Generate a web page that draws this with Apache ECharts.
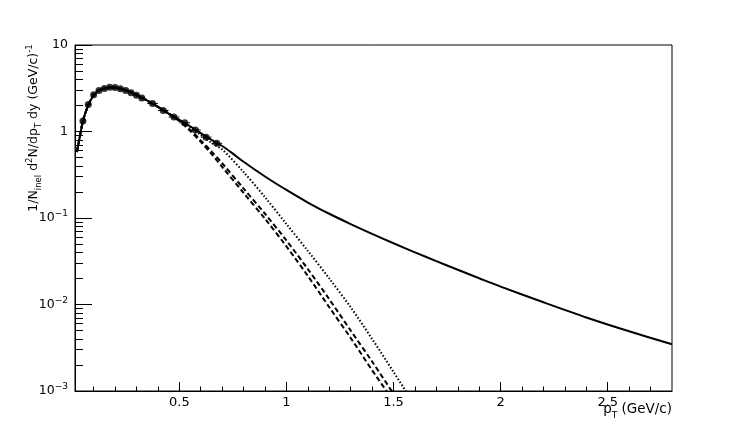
<!DOCTYPE html>
<html><head><meta charset="utf-8">
<script src="https://cdn.jsdelivr.net/npm/echarts@6/dist/echarts.min.js"></script>
<style>html,body{margin:0;padding:0;background:#fff;}#c{width:747px;height:436px;}</style>
</head><body><div id="c"></div>
<script>
// ---- tick labels ----
const xTickValues = [0.5, 1, 1.5, 2, 2.5];
const xMinorTickValues = [0.1,0.2,0.3,0.4,0.6,0.7,0.8,0.9,1.1,1.2,1.3,1.4,1.6,1.7,1.8,1.9,2.1,2.2,2.3,2.4,2.6,2.7];
const yMinorTickValues = [0.002,0.003,0.004,0.005,0.006,0.007,0.008,0.009,
  0.02,0.03,0.04,0.05,0.06,0.07,0.08,0.09,
  0.2,0.3,0.4,0.5,0.6,0.7,0.8,0.9,
  2,3,4,5,6,7,8,9];

// ---- shared low-pT part of all model curves ----
const lowPt  = [0.022,0.03,0.04,0.05,0.06,0.075,0.09,0.1,0.12,0.14,0.16,0.18,0.2,0.22,0.25,0.28,0.3,0.325,0.35,0.375,0.4];
const lowVal = [0.58,0.74,1.0,1.32,1.6,2.02,2.4,2.62,2.92,3.10,3.19,3.22,3.20,3.14,3.00,2.80,2.65,2.47,2.28,2.10,1.93];

// ---- solid curve tail ----
const solidPt  = [0.45,0.5,0.55,0.6,0.65,0.7,0.75,0.8,0.9,1.0,1.1,1.2,1.3,1.4,1.5,1.6,1.7,1.8,1.9,2.0,2.2,2.4,2.6,2.8];
const solidVal = [1.61,1.36,1.15,0.96,0.80,0.68,0.555,0.447,0.302,0.211,0.151,0.112,0.0851,0.0656,0.0511,0.0401,0.0317,0.0252,0.0201,0.0161,0.0106,0.00708,0.0049,0.00347];

// ---- dashed curve A (leftmost) ----
const dashAPt  = [0.45,0.5,0.55,0.6,0.65,0.7,0.8,0.9,1.0,1.1,1.2,1.3,1.4,1.5];
const dashAVal = [1.60,1.32,1.02,0.76,0.55,0.39,0.195,0.098,0.047,0.0214,0.0093,0.0041,0.00174,0.00076];

// ---- dashed curve B ----
const dashBPt  = [0.45,0.5,0.55,0.6,0.65,0.7,0.8,0.9,1.0,1.1,1.2,1.3,1.4,1.5,1.6];
const dashBVal = [1.61,1.33,1.05,0.79,0.59,0.43,0.219,0.112,0.055,0.0257,0.0115,0.0050,0.00219,0.00093,0.0004];

// ---- dotted curve ----
const dotPt  = [0.45,0.5,0.55,0.6,0.65,0.7,0.8,0.9,1.0,1.1,1.2,1.3,1.4,1.5,1.6];
const dotVal = [1.62,1.36,1.12,0.91,0.74,0.62,0.34,0.174,0.085,0.0417,0.020,0.0093,0.0040,0.00166,0.00068];

// ---- data points ----
const dataPt   = [0.05,0.075,0.1,0.125,0.15,0.175,0.2,0.225,0.25,0.275,0.3,0.325,0.375,0.425,0.475,0.525,0.575,0.625,0.675];
const dataVal  = [1.32,2.05,2.66,2.98,3.14,3.24,3.22,3.12,2.98,2.80,2.62,2.44,2.11,1.75,1.47,1.26,1.04,0.86,0.73];
const dataXErr = [0.0125,0.0125,0.0125,0.0125,0.0125,0.0125,0.0125,0.0125,0.0125,0.0125,0.0125,0.0125,0.025,0.025,0.025,0.025,0.025,0.025,0.025];
const dataYErr = [0.06,0.08,0.10,0.11,0.12,0.12,0.12,0.12,0.11,0.10,0.10,0.09,0.08,0.07,0.06,0.05,0.05,0.04,0.04];

const FONT = 'DejaVu Sans';
function pairs(xs, ys) { return xs.map((x, i) => [x, ys[i]]); }

const chart = echarts.init(document.getElementById('c'), null, {renderer: 'canvas'});

const lineBase = {type: 'line', showSymbol: false, symbol: 'none', smooth: 0.3, clip: true,
  xAxisIndex: 0, yAxisIndex: 0, animation: false, silent: true};

chart.setOption({
  animation: false,
  backgroundColor: '#fff',
  grid: {left: 75, right: 75, top: 45, bottom: 45, show: true, borderColor: '#000', borderWidth: 1, backgroundColor: 'transparent'},
  xAxis: [
    {type: 'value', min: 0.013, max: 2.8, position: 'bottom',
      axisLine: {show: true, onZero: false, lineStyle: {color: '#000', width: 1}},
      axisTick: {show: true, inside: true, length: 9, customValues: xTickValues, lineStyle: {color: '#000'}},
      axisLabel: {show: true, customValues: xTickValues, margin: 5, color: '#000', fontFamily: FONT, fontSize: 13,
        formatter: v => String(v)},
      splitLine: {show: false}},
    {type: 'value', min: 0.013, max: 2.8, position: 'bottom', gridIndex: 0,
      axisLine: {show: false, onZero: false},
      axisTick: {show: true, inside: true, length: 4.5, customValues: xMinorTickValues, lineStyle: {color: '#000'}},
      axisLabel: {show: false},
      splitLine: {show: false}}
  ],
  yAxis: [
    {type: 'log', logBase: 10, min: 0.001, max: 10, position: 'left',
      axisLine: {show: true, onZero: false, lineStyle: {color: '#000', width: 1}},
      axisTick: {show: true, inside: true, length: 17, lineStyle: {color: '#000'}},
      axisLabel: {show: true, margin: 7, color: '#000', fontFamily: FONT, fontSize: 12.5,
        formatter: v => {
          const e = Math.round(Math.log10(v));
          if (e === 0) return '{b|1}';
          if (e === 1) return '{b|10}';
          return '{b|10}{s|\u2212' + (-e) + '}';
        },
        rich: {
          b: {fontFamily: FONT, fontSize: 12.5, color: '#000'},
          s: {fontFamily: FONT, fontSize: 9, color: '#000', padding: [0, 0, 8, 0]}
        }},
      splitLine: {show: false}, minorTick: {show: false}},
    {type: 'value', min: -3, max: 1, position: 'left', gridIndex: 0,
      axisLine: {show: false, onZero: false},
      axisTick: {show: true, inside: true, length: 8, customValues: yMinorTickValues.map(Math.log10), lineStyle: {color: '#000'}},
      axisLabel: {show: false},
      splitLine: {show: false}}
  ],
  graphic: [
    {type: 'text', x: 34, y: 128, rotation: Math.PI / 2, silent: true,
      style: {
        text: '{m|1/N}{s|inel}{m| d}{p|2}{m|N/dp}{s|T}{m| dy (GeV/c)}{p|-1}',
        align: 'center', verticalAlign: 'middle', fill: '#000',
        rich: {
          m: {fontFamily: FONT, fontSize: 12.5, fill: '#000'},
          s: {fontFamily: FONT, fontSize: 8.5, fill: '#000', padding: [10, 0, 0, 0]},
          p: {fontFamily: FONT, fontSize: 8.5, fill: '#000', padding: [0, 0, 9, 0]}
        }
      }},
    {type: 'text', x: 672, y: 409, silent: true,
      style: {
        text: '{m|p}{s|T}{m| (GeV/c)}',
        align: 'right', verticalAlign: 'middle', fill: '#000',
        rich: {
          m: {fontFamily: FONT, fontSize: 13.5, fill: '#000'},
          s: {fontFamily: FONT, fontSize: 9, fill: '#000', padding: [13, 0, 0, 0]}
        }
      }}
  ],
  series: [
    Object.assign({}, lineBase, {name: 'dashA', data: pairs(lowPt.concat(dashAPt), lowVal.concat(dashAVal)),
      lineStyle: {color: '#000', width: 2, type: [5, 3]}}),
    Object.assign({}, lineBase, {name: 'dashB', data: pairs(lowPt.concat(dashBPt), lowVal.concat(dashBVal)),
      lineStyle: {color: '#000', width: 2, type: [5, 3]}}),
    Object.assign({}, lineBase, {name: 'dot', data: pairs(lowPt.concat(dotPt), lowVal.concat(dotVal)),
      lineStyle: {color: '#000', width: 2, type: [1.5, 2]}}),
    Object.assign({}, lineBase, {name: 'solid', data: pairs(lowPt.concat(solidPt), lowVal.concat(solidVal)),
      lineStyle: {color: '#000', width: 2, type: 'solid'}}),
    {type: 'custom', name: 'errors', xAxisIndex: 0, yAxisIndex: 0, silent: true,
      data: dataPt.map((x, i) => [x, dataVal[i], dataXErr[i], dataYErr[i]]),
      encode: {x: 0, y: 1},
      renderItem: (params, api) => {
        const x = api.value(0), y = api.value(1), ex = api.value(2), ey = api.value(3);
        const l = api.coord([x - ex, y]), r = api.coord([x + ex, y]);
        const t = api.coord([x, y + ey]), b = api.coord([x, y - ey]);
        return {type: 'group', children: [
          {type: 'line', shape: {x1: l[0], y1: l[1], x2: r[0], y2: r[1]}, style: {stroke: '#000', lineWidth: 1}},
          {type: 'line', shape: {x1: t[0], y1: t[1], x2: b[0], y2: b[1]}, style: {stroke: '#000', lineWidth: 1}}
        ]};
      }},
    {type: 'scatter', name: 'data', xAxisIndex: 0, yAxisIndex: 0, silent: true,
      data: pairs(dataPt, dataVal), symbol: 'circle', symbolSize: 7,
      itemStyle: {color: '#000'}}
  ]
});
</script></body></html>
